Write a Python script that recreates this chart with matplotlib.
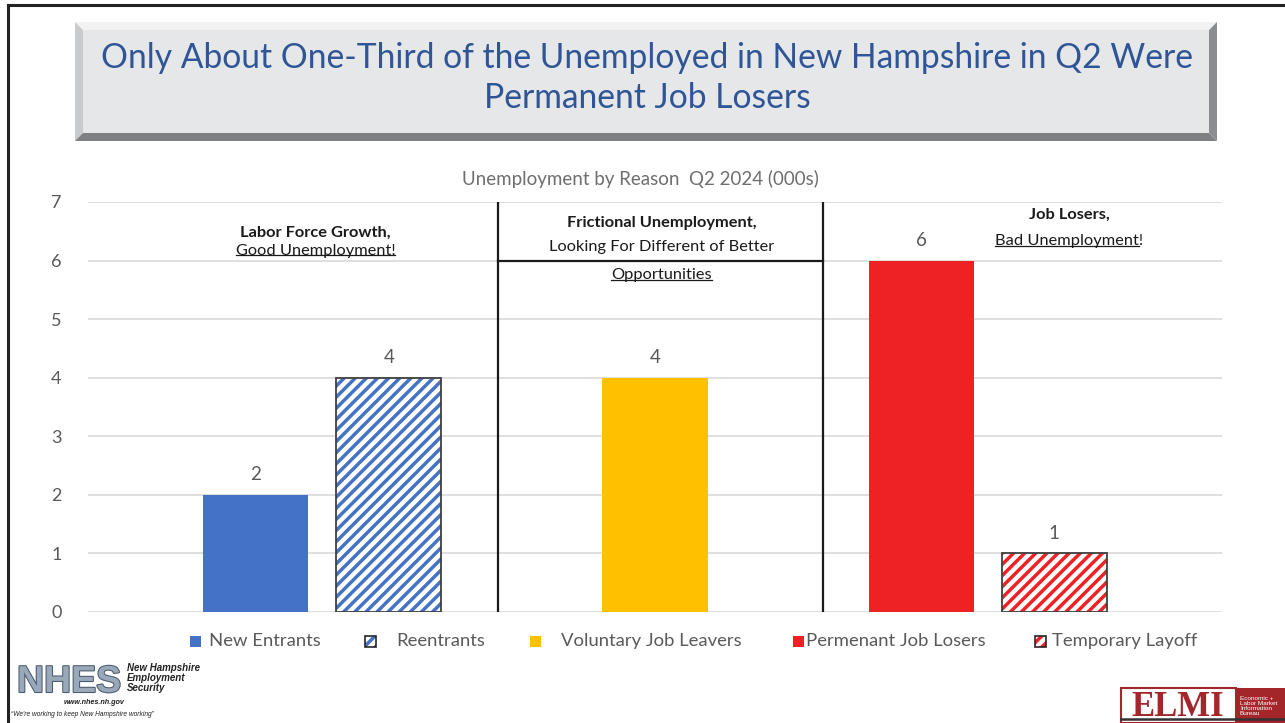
import matplotlib
matplotlib.use("Agg")
import matplotlib.pyplot as plt
from matplotlib.patches import Rectangle, Polygon
import matplotlib.patheffects as pe

# ---------------- data ----------------
categories = ["New Entrants", "Reentrants", "Voluntary Job Leavers",
              "Permenant Job Losers", "Temporary Layoff"]
values = [2, 4, 4, 6, 1]
slots = [0, 1, 3, 5, 6]
colors = ["#4472C4", "#4472C4", "#FFC000", "#EE2224", "#EE2224"]
hatched = [False, True, False, False, True]
yticks = [0, 1, 2, 3, 4, 5, 6, 7]
title = "Only About One-Third of the Unemployed in New Hampshire in Q2 Were\nPermanent Job Losers"
subtitle = "Unemployment by Reason  Q2 2024 (000s)"

W, H = 1285, 723
plt.rcParams['font.family'] = ['Lato', 'DejaVu Sans']
plt.rcParams['hatch.linewidth'] = 2.5

fig = plt.figure(figsize=(W / 100, H / 100), dpi=100)
fig.patch.set_facecolor("white")

def fx(px):
    return px / W

def fy(py):
    return 1 - py / H

# outer frame
fig.add_artist(plt.Line2D([fx(8), fx(8)], [fy(5), fy(723)], color="#222222", lw=2.2))
fig.add_artist(plt.Line2D([fx(8), fx(1285)], [fy(5), fy(5)], color="#222222", lw=2.2))

# title box with bevel
L, T, R, B = 75, 22, 1217, 141
bv = 8
def poly(pts, color):
    fig.add_artist(Polygon([(fx(x), fy(y)) for x, y in pts], closed=True,
                           facecolor=color, edgecolor="none", transform=fig.transFigure))
poly([(L, T), (R, T), (R - bv, T + bv), (L + bv, T + bv)], "#F2F2F3")
poly([(L, T), (L + bv, T + bv), (L + bv, B - bv), (L, B)], "#C9CACC")
poly([(R, T), (R, B), (R - bv, B - bv), (R - bv, T + bv)], "#8C8D90")
poly([(L, B), (R, B), (R - bv, B - bv), (L + bv, B - bv)], "#7F8083")
poly([(L + bv, T + bv), (R - bv, T + bv), (R - bv, B - bv), (L + bv, B - bv)], "#E6E7E9")
fig.text(fx((L + R) / 2 + 1), fy(78), title, ha="center", va="center",
         fontsize=24.2, color="#2F5597", linespacing=1.28)

# subtitle
fig.text(fx(640), fy(179), subtitle, ha="center", va="center",
         fontsize=13.5, color="#6E6E6E")

# axes
ax = fig.add_axes([fx(88), fy(612), fx(1222) - fx(88), fy(202) - fy(612)])
ax.set_xlim(-1.26, 7.26)
ax.set_ylim(0, 7)
for s in ax.spines.values():
    s.set_visible(False)
ax.set_yticks(yticks)
ax.set_yticklabels([str(t) for t in yticks])
ax.tick_params(axis="y", length=0, pad=19, labelsize=13, labelcolor="#595959")
ax.tick_params(axis="x", length=0, labelbottom=False)
ax.grid(axis="y", color="#D9D9D9", lw=1.2)
ax.set_axisbelow(True)

bw = 0.79
for s, v, c, h in zip(slots, values, colors, hatched):
    if h:
        ax.bar(s, v, width=bw, color="white", edgecolor=c, hatch="///", lw=0, zorder=2)
        ax.bar(s, v, width=bw, fill=False, edgecolor="#404040", lw=1.3, zorder=3)
    else:
        ax.bar(s, v, width=bw, color=c, lw=0, zorder=2)
    ax.text(s, v + 0.2, str(v), ha="center", va="bottom", fontsize=13.5, color="#595959")

# separators
sep1, sep2 = 1.82, 4.26
ax.plot([sep1, sep1], [0, 7], color="#1A1A1A", lw=1.6, zorder=4)
ax.plot([sep2, sep2], [0, 7], color="#1A1A1A", lw=1.6, zorder=4)
ax.plot([sep1, sep2], [6, 6], color="#1A1A1A", lw=1.6, zorder=4)

# annotation texts
ann = []
def atext(x, y, s, bold=False, underline=False, exclude=None):
    t = ax.text(x, y, s, ha="center", va="center", fontsize=11.8, color="#1A1A1A",
                fontweight="bold" if bold else "normal", zorder=5)
    if underline:
        ann.append((t, exclude))
    return t

atext(0.45, 6.47, "Labor Force Growth,", bold=True)
atext(0.45, 6.17, "Good Unemployment!", underline=True)
atext(3.05, 6.64, "Frictional Unemployment,", bold=True)
atext(3.05, 6.23, "Looking For Different of Better")
atext(3.05, 5.75, "Opportunities", underline=True)
atext(6.11, 6.78, "Job Losers,", bold=True)
atext(6.11, 6.33, "Bad Unemployment!", underline=True, exclude="!")

# legend (manual)
leg_y = fy(641)
leg_items = [(195, 209), (370, 396), (535, 561), (798, 806), (1040, 1052)]
sq = 11
for (mx, tx), c, h, name in zip(leg_items, colors, hatched, categories):
    x0 = fx(mx - sq / 2)
    y0 = leg_y - (sq / 2) / H
    if h:
        fig.add_artist(Rectangle((x0, y0), sq / W, sq / H, transform=fig.transFigure,
                                 facecolor="white", edgecolor=c, hatch="///", lw=0))
        fig.add_artist(Rectangle((x0, y0), sq / W, sq / H, transform=fig.transFigure,
                                 fill=False, edgecolor="#262626", lw=1.2))
    else:
        fig.add_artist(Rectangle((x0, y0), sq / W, sq / H, transform=fig.transFigure,
                                 facecolor=c, edgecolor="none"))
    fig.text(fx(tx), leg_y, name, ha="left", va="center", fontsize=13.3, color="#595959")

# NHES logo (approximation)
fig.text(fx(17), fy(682), "NHES", ha="left", va="center", fontsize=27, fontweight="bold",
         color="#9AA9BA", family=["Liberation Sans Narrow", "Liberation Sans"],
         path_effects=[pe.withStroke(linewidth=1.5, foreground="#4A5A6E")])
fig.text(fx(127), fy(678), "New Hampshire\nEmployment\nSecurity", ha="left", va="center",
         fontsize=7.0, fontweight="bold", style="italic", color="#222222",
         family=["Liberation Sans"], linespacing=1.0)
fig.text(fx(64), fy(703), "www.nhes.nh.gov", ha="left", va="center", fontsize=5.2,
         fontweight="bold", style="italic", color="#222222", family=["Liberation Sans"])
fig.text(fx(11), fy(715), "\u201cWe're working to keep New Hampshire working\u201d", ha="left",
         va="center", fontsize=4.8, style="italic", color="#222222", family=["Liberation Sans"])

# ELMI logo (approximation)
fig.add_artist(Rectangle((fx(1121), fy(723)), (1236 - 1121) / W, (723 - 688) / H,
                         transform=fig.transFigure, facecolor="white", edgecolor="#A3262A", lw=1.5))
fig.text(fx(1178), fy(708), "ELMI", ha="center", va="center", fontsize=25, fontweight="bold",
         color="#A3262A", family=["Liberation Serif"])
fig.add_artist(Rectangle((fx(1237), fy(723)), (1285 - 1237) / W, (723 - 688) / H,
                         transform=fig.transFigure, facecolor="#A3262A", edgecolor="none"))
fig.text(fx(1240), fy(706), "Economic +\nLabor Market\nInformation\nBureau", ha="left", va="center",
         fontsize=4.6, color="white", family=["Liberation Sans"], linespacing=1.0)
fig.add_artist(plt.Line2D([fx(1121), fx(1285)], [fy(719), fy(719)], color="#333333", lw=1.8))

# underline texts
fig.canvas.draw()
r = fig.canvas.get_renderer()
inv = fig.transFigure.inverted()
for t, exclude in ann:
    bb = t.get_window_extent(r)
    x1 = bb.x1
    if exclude:
        tmp = fig.text(0, 0, exclude, fontsize=t.get_fontsize())
        x1 -= tmp.get_window_extent(r).width
        tmp.remove()
    yb = bb.y0 + 2.5
    (a0, b0) = inv.transform((bb.x0, yb))
    (a1, b1) = inv.transform((x1, yb))
    fig.add_artist(plt.Line2D([a0, a1], [b0, b1], color="#1A1A1A", lw=0.9))

fig.savefig("out.png", dpi=100, facecolor="white")
